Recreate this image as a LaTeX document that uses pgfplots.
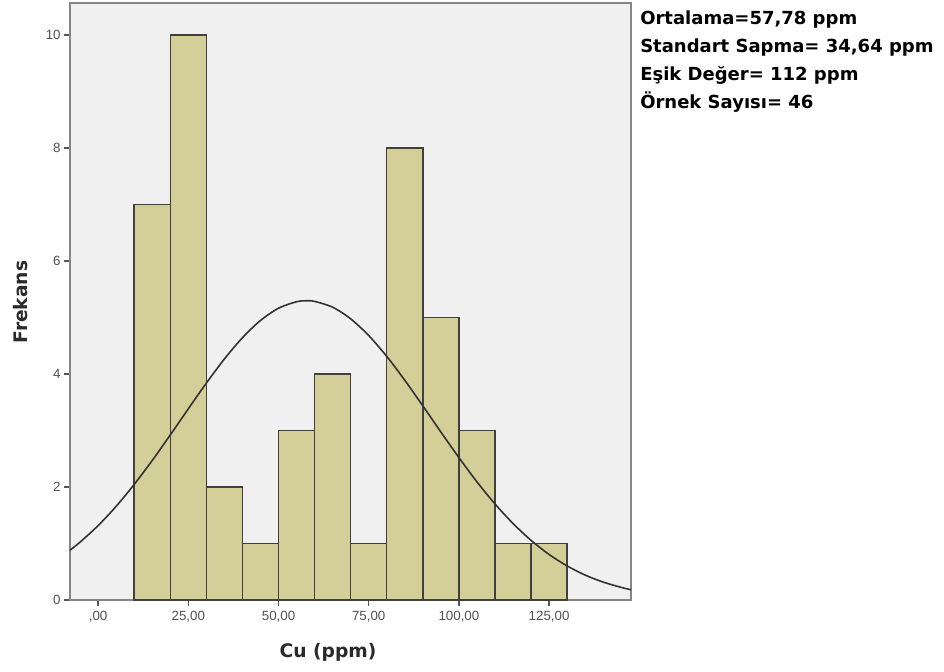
\documentclass[border=0pt]{standalone}
\usepackage{pgfplots}
\pgfplotsset{compat=1.18}
\usepackage{fontspec}
\setmainfont{Liberation Sans}
\newfontfamily\annfont{DejaVu Sans}
\definecolor{plotbg}{HTML}{F0F0F0}
\definecolor{barfill}{HTML}{D4CF98}
\definecolor{baredge}{HTML}{404040}
\definecolor{frame}{HTML}{858585}
\definecolor{tickcol}{HTML}{555555}
\definecolor{ticktext}{HTML}{505050}
\definecolor{labeltext}{HTML}{2A2A2A}
\begin{document}
\begin{tikzpicture}
\useasboundingbox (-52.5pt,-53.25pt) rectangle (655.5pt,450pt);
\begin{axis}[
  at={(0,0)}, anchor=south west,
  scale only axis, width=420.75pt, height=447.75pt,
  xmin=-7.8, xmax=147.7, ymin=0, ymax=10.57,
  axis background/.style={fill=plotbg},
  axis line style={draw=frame, line width=1.4pt},
  xtick align=outside, ytick align=outside,
  xtick pos=bottom, ytick pos=left,
  major tick length=4.5pt,
  tick style={draw=tickcol, line width=1.1pt},
  xtick={0,25,50,75,100,125},
  xticklabels={{,00},{25,00},{50,00},{75,00},{100,00},{125,00}},
  ytick={0,2,4,6,8,10},
  /pgf/number format/assume math mode=true,
  tick label style={font=\fontsize{10}{11}\selectfont, text=ticktext},
  yticklabel style={xshift=1pt},
  xlabel={Cu (ppm)}, ylabel={Frekans},
  label style={font=\annfont\bfseries\fontsize{14}{15}\selectfont, text=labeltext},
  xlabel style={at={(axis description cs:0.46,-0.0871)}, anchor=center},
  ylabel style={at={(axis description cs:-0.0873,0.499)}, anchor=center},
  clip=true,
]
% histogram fill first, then outlines, so that shared edges keep one width
\addplot[ybar interval, fill=barfill, draw=none]
  coordinates {(10,7) (20,10) (30,2) (40,1) (50,3) (60,4) (70,1) (80,8)
               (90,5) (100,3) (110,1) (120,1) (130,1)};
\addplot[ybar interval, fill=none, draw=baredge, line width=1.1pt]
  coordinates {(10,7) (20,10) (30,2) (40,1) (50,3) (60,4) (70,1) (80,8)
               (90,5) (100,3) (110,1) (120,1) (130,1)};
\addplot[smooth, draw=black!80, line width=1.2pt] coordinates {
  (-8,0.873) (-5,1.025) (0,1.318) (5,1.659) (10,2.047) (15,2.471)
  (20,2.923) (25,3.386) (30,3.841) (35,4.268) (40,4.644) (45,4.949)
  (50,5.166) (55,5.281) (57.78,5.298) (60,5.287) (65,5.184) (70,4.978)
  (75,4.682) (80,4.313) (85,3.890) (90,3.437) (95,2.974) (100,2.521)
  (105,2.092) (110,1.701) (115,1.354) (120,1.056) (125,0.806)
  (130,0.603) (135,0.441) (140,0.317) (145,0.223) (148,0.178)};
\end{axis}
\begin{scope}[every node/.style={anchor=base west, inner sep=0pt,
    font=\annfont\bfseries\fontsize{13.5}{16}\selectfont, text=black}]
\node at (427.5pt,431.25pt) {Ortalama=57,78 ppm};
\node at (427.5pt,410.25pt) {Standart Sapma= 34,64 ppm};
\node at (427.5pt,389.25pt) {Eşik Değer= 112 ppm};
\node at (427.5pt,368.25pt) {Örnek Sayısı= 46};
\end{scope}
\end{tikzpicture}
\end{document}
